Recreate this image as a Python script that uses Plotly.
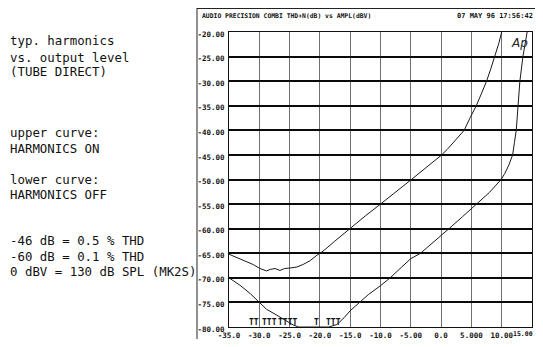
import plotly.graph_objects as go

# ---- data ----
x_ticks = [-35, -30, -25, -20, -15, -10, -5, 0, 5, 10, 15]
x_ticktext = ["-35.0", "-30.0", "-25.0", "-20.0", "-15.0", "-10.0", "-5.00", "0.0", "5.000", "10.00", "15.00"]
y_ticks = [-20, -25, -30, -35, -40, -45, -50, -55, -60, -65, -70, -75, -80]
y_ticktext = ["-20.00", "-25.00", "-30.00", "-35.00", "-40.00", "-45.00", "-50.00",
              "-55.00", "-60.00", "-65.00", "-70.00", "-75.00", "-80.00"]

# upper curve: HARMONICS ON
x_on = [-35, -34, -33.2, -32.1, -31, -29.9, -28.8, -28.2, -27.4, -26.6, -25.8, -24.9, -23.8,
        -22.8, -21.6, -20.5, -19.5, -17.6, -15, -12.5, -10, -7.5, -5, -2.5, 0, 1.0, 2.5, 3.8,
        4.8, 5.8, 6.7, 7.5, 8.2, 8.9, 9.5, 10.0]
y_on = [-65.2, -65.7, -66.1, -66.6, -67.3, -68.1, -68.6, -68.3, -68.1, -68.5, -68.1, -68.0, -67.8,
        -67.3, -66.5, -65.4, -64.6, -62.6, -59.9, -57.4, -55.0, -52.6, -50.1, -47.6, -45.1, -43.9,
        -41.8, -40.0, -37.4, -35.0, -32.4, -30.0, -27.5, -25.0, -22.4, -20.0]

# lower curve: HARMONICS OFF
x_off = [-35, -33.2, -31.5, -30, -28.8, -27.1, -25.5, -24.4, -23.5, -21, -18.5, -17.2, -16, -15,
         -13.5, -12, -10, -8.4, -6.5, -5, -3.4, -1.5, 0, 1.3, 3.5, 5.9, 8, 9.9, 10.5, 11.2,
         11.8, 12.1, 12.4, 12.7, 13.0, 13.5, 14.2]
y_off = [-70, -71.5, -73.2, -75, -76.4, -77.6, -78.8, -79.6, -80, -80, -80, -79.5, -78.1, -76.7,
         -75, -73.4, -71.6, -70, -67.8, -66.1, -65, -62.9, -61.4, -60, -57.6, -55, -52.6, -50,
         -48.8, -47, -45, -42.5, -40, -35, -30, -25, -20]

# clip markers along the -80 floor
t_marks = ["TT", "TTT", "TTTT", "T", "TTT"]
t_x = [-30.8, -28.4, -25.3, -20.6, -17.8]

left_text = ["typ. harmonics", "vs. output level", "(TUBE DIRECT)",
             "upper curve:", "HARMONICS ON", "lower curve:", "HARMONICS OFF",
             "-46 dB = 0.5 % THD", "-60 dB = 0.1 % THD", "0 dBV = 130 dB SPL (MK2S)"]
left_text_y = [41, 57, 72, 132, 148, 179, 195, 240, 256, 271]

header_left = "AUDIO PRECISION COMBI THD+N(dB) vs AMPL(dBV)"
header_right = "07 MAY 96 17:56:42"

# ---- layout geometry (page body has an 8px margin; keep page within the window) ----
OFF = 8
W, H = 543 - 2 * OFF, 347 - 2 * OFF
ML, MT = 229 - OFF, 32 - OFF
MR = W - (532 - OFF)
MB = H - (327 - OFF)
PW, PH = W - ML - MR, H - MT - MB


def px_x(px):
    return (px - OFF - ML) / PW


def px_y(py):
    return 1 - (py - OFF - MT) / PH


fig = go.Figure()
fig.add_trace(go.Scatter(x=x_on, y=y_on, mode="lines",
                         line=dict(color="#1a1a1a", width=1), showlegend=False))
fig.add_trace(go.Scatter(x=x_off, y=y_off, mode="lines",
                         line=dict(color="#1a1a1a", width=1), showlegend=False))

tickfont = dict(family="DejaVu Sans Mono", size=7.5, color="#111", weight="bold")

# last x label sits at the page edge: drawn as an annotation so it stays whole
axis_xtext = x_ticktext[:-1] + [""]

fig.update_layout(
    width=W, height=H,
    margin=dict(l=ML, r=MR, t=MT, b=MB, pad=0, autoexpand=False),
    paper_bgcolor="white", plot_bgcolor="white",
    xaxis=dict(range=[-35, 15], tickmode="array", tickvals=x_ticks, ticktext=axis_xtext,
               showgrid=True, gridcolor="#707070", gridwidth=1,
               showline=True, linecolor="#111", linewidth=1, mirror=True, automargin=False,
               zeroline=False, ticks="", tickfont=tickfont, ticklabelstandoff=1,
               ticklabeloverflow="allow"),
    yaxis=dict(range=[-80, -20], tickmode="array", tickvals=y_ticks, ticktext=y_ticktext,
               showgrid=True, gridcolor="#0a0a0a", gridwidth=1.6,
               showline=True, linecolor="#111", linewidth=1, mirror=True, automargin=False,
               zeroline=False, ticks="", tickfont=tickfont, ticklabelstandoff=2,
               ticklabelshift=2),
)

fig.add_annotation(xref="paper", yref="paper", x=px_x(535), y=px_y(334),
                   xanchor="right", yanchor="middle", showarrow=False,
                   text=x_ticktext[-1],
                   font=dict(family="DejaVu Sans Mono", size=6.5, color="#111", weight="bold"))

# outer frame lines
fig.add_shape(type="line", xref="paper", yref="paper",
              x0=px_x(197), x1=px_x(W + OFF + 2), y0=px_y(OFF + 0.5), y1=px_y(OFF + 0.5),
              line=dict(color="#222", width=1))
fig.add_shape(type="line", xref="paper", yref="paper",
              x0=px_x(197), x1=px_x(197), y0=px_y(OFF), y1=px_y(H + OFF + 2),
              line=dict(color="#222", width=1))

# header texts
fig.add_annotation(xref="paper", yref="paper", x=px_x(200), y=px_y(16),
                   xanchor="left", yanchor="middle", showarrow=False,
                   text=header_left,
                   font=dict(family="DejaVu Sans Mono", size=6.4, color="#111", weight="bold"))
fig.add_annotation(xref="paper", yref="paper", x=px_x(535), y=px_y(16),
                   xanchor="right", yanchor="middle", showarrow=False,
                   text=header_right,
                   font=dict(family="DejaVu Sans Mono", size=7, color="#111", weight="bold"))

# Ap logo
fig.add_annotation(xref="paper", yref="paper", x=px_x(519), y=px_y(43),
                   xanchor="center", yanchor="middle", showarrow=False,
                   text="<i>Ap</i>",
                   font=dict(family="DejaVu Sans", size=12, color="#222"))

# left description
for t, yy in zip(left_text, left_text_y):
    fig.add_annotation(xref="paper", yref="paper", x=px_x(8), y=px_y(yy),
                       xanchor="left", yanchor="middle", showarrow=False, text=t,
                       font=dict(family="DejaVu Sans Mono", size=12.4, color="#111"))

# T marks on the floor
for t, xx in zip(t_marks, t_x):
    fig.add_annotation(x=xx, y=-80, xref="x", yref="y", xanchor="center", yanchor="bottom",
                       showarrow=False, text=t, yshift=-2,
                       font=dict(family="DejaVu Sans Mono", size=8, color="#111", weight="bold"))

fig.write_html("out.html")
